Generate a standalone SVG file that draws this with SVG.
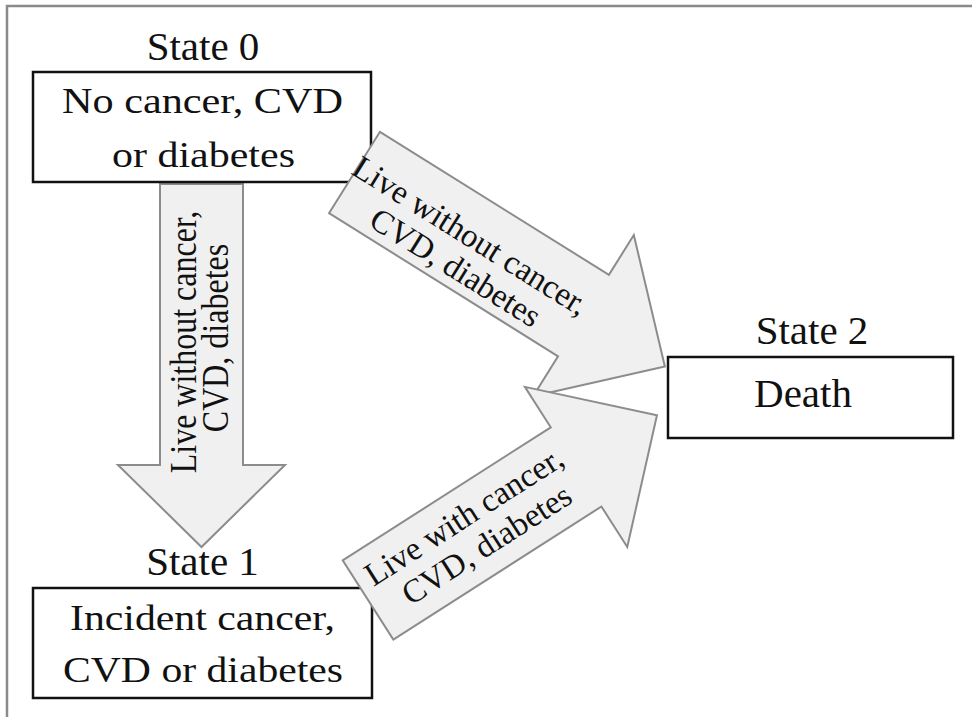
<svg xmlns="http://www.w3.org/2000/svg" width="972" height="717" viewBox="0 0 972 717">
  <style>
    text { font-family: "Liberation Serif", "Times New Roman", serif; fill: #111; }
    .state { font-size: 41px; text-anchor: middle; }
    .boxtxt { font-size: 36px; text-anchor: middle; }
    .arrtxt { font-size: 32px; text-anchor: middle; }
    .darrtxt { font-size: 33px; text-anchor: middle; }
    .box { fill: #fff; stroke: #111; stroke-width: 2.5; }
    .arrow { fill: #f0f0f0; stroke: #8c8c8c; stroke-width: 2; stroke-linejoin: miter; }
    .frame { stroke: #8a8a8a; stroke-width: 2.5; fill: none; }
  </style>
  <rect width="972" height="717" fill="#fff"/>
  <path class="frame" d="M7,717 V6 H972"/>

  <g id="connector-0-1-under">
    <polygon class="arrow" points="160,184 243,184 243,465 285,465 201.5,547 118,465 160,465"/>
    <text class="arrtxt" transform="translate(201.5,338) scale(1.2,1) rotate(-90)">
      <tspan x="0" y="-5">Live without cancer,</tspan>
      <tspan x="0" y="22">CVD, diabetes</tspan>
    </text>
  </g>

  <g id="state0">
    <text class="state" x="203" y="60">State 0</text>
    <rect class="box" x="33" y="72" width="338" height="110"/>
    <text class="boxtxt" x="202.5" y="113" textLength="281" lengthAdjust="spacingAndGlyphs">No cancer, CVD</text>
    <text class="boxtxt" x="203.5" y="167" textLength="183" lengthAdjust="spacingAndGlyphs">or diabetes</text>
  </g>

  <g id="state1">
    <text class="state" x="202.5" y="575">State 1</text>
    <rect class="box" x="33" y="588" width="339" height="110"/>
    <text class="boxtxt" x="202.5" y="630" textLength="265" lengthAdjust="spacingAndGlyphs">Incident cancer,</text>
    <text class="boxtxt" x="203" y="682" textLength="280" lengthAdjust="spacingAndGlyphs">CVD or diabetes</text>
  </g>

  <g id="state2">
    <text class="state" x="812" y="344">State 2</text>
    <rect class="box" x="668" y="357" width="285" height="81"/>
    <text class="state" x="803" y="407">Death</text>
  </g>

  <g id="connectors">
    <g id="arrow-0-2" transform="translate(354.5,172.5) rotate(32)">
      <polygon class="arrow" points="0,-48 270,-48 270,-95 366,0 270,95 270,48 0,48"/>
      <text class="darrtxt">
        <tspan x="136" y="3">Live without cancer,</tspan>
        <tspan x="136" y="38">CVD, diabetes</tspan>
      </text>
    </g>
    <g id="arrow-1-2" transform="translate(368,600) rotate(-32.6)">
      <polygon class="arrow" points="0,-47 247,-47 247,-95 343,0 247,95 247,47 0,47"/>
      <text class="darrtxt">
        <tspan x="130" y="-8">Live with cancer,</tspan>
        <tspan x="130" y="28">CVD, diabetes</tspan>
      </text>
    </g>
  </g>
</svg>
